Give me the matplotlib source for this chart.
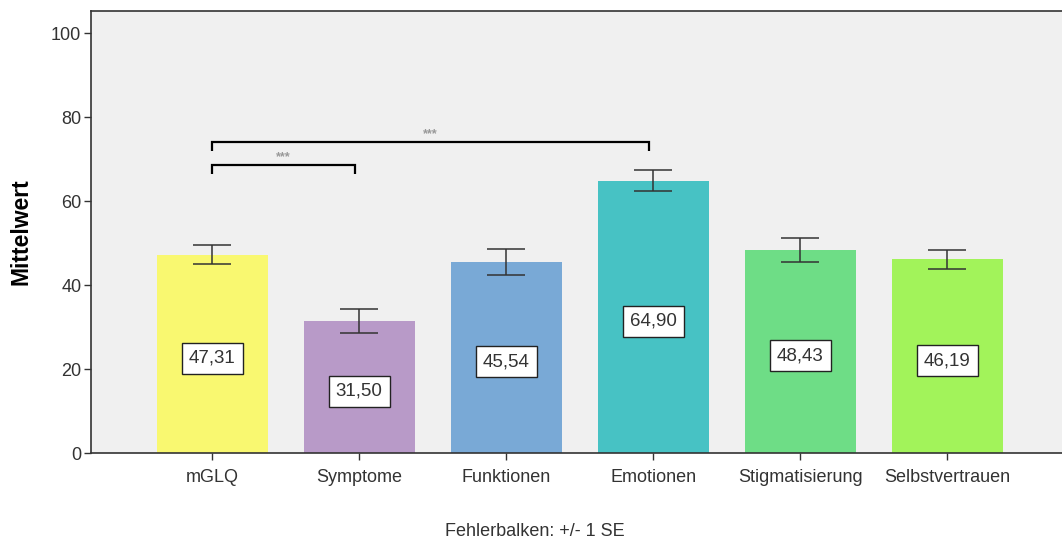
import matplotlib
matplotlib.use("Agg")
import matplotlib.pyplot as plt

plt.rcParams['font.family'] = ['Liberation Sans', 'DejaVu Sans']

categories = ["mGLQ", "Symptome", "Funktionen", "Emotionen", "Stigmatisierung", "Selbstvertrauen"]
means = [47.31, 31.50, 45.54, 64.90, 48.43, 46.19]
se = [2.3, 2.85, 3.2, 2.5, 2.78, 2.3]
colors = ["#F9F870", "#B89AC8", "#79A9D6", "#47C2C4", "#6EDD86", "#A2F35A"]
yticks = [0, 20, 40, 60, 80, 100]

# significance brackets: (left index, right index, bracket height, label)
brackets = [(0, 1, 68.6, "***"), (0, 3, 74.2, "***")]

fig = plt.figure(figsize=(10.62, 5.42), dpi=100)
ax = fig.add_axes([91 / 1062, 0.1636, 1 - 91 / 1062, 0.9806 - 0.1636])
ax.set_facecolor("#F0F0F0")

x = list(range(len(categories)))
ax.bar(x, means, width=0.755, color=colors, zorder=2)
ax.errorbar(x, means, yerr=se, fmt="none", ecolor="#333333", elinewidth=1.1,
            capsize=13.5, capthick=1.1, zorder=3)

for xi, m in zip(x, means):
    ax.text(xi, m / 2 - 1.0, f"{m:.2f}".replace(".", ","), ha="center", va="center",
            fontsize=13.5, color="#333333", zorder=4,
            bbox=dict(boxstyle="square,pad=0.38", fc="white", ec="#222222", lw=1.0))

for i, j, h, lab in brackets:
    xl, xr = x[i], x[j] - 0.03
    ax.plot([xl, xl, xr, xr], [h - 2.2, h, h, h - 2.2], color="black", lw=1.6,
            solid_capstyle="butt", solid_joinstyle="miter", zorder=4)
    ax.text((xl + xr) / 2, h + 0.4, lab, ha="center", va="bottom", fontsize=9,
            fontweight="bold", color="#999999", zorder=4)

ax.set_xlim(-0.823, 5.78)
ax.set_ylim(0, 105.4)
ax.set_yticks(yticks)
ax.set_xticks(x)
ax.set_xticklabels(categories)
ax.tick_params(axis="both", labelsize=13, labelcolor="#333333", color="#333333",
               length=5, width=1.0)
ax.tick_params(axis="x", pad=6)
ax.tick_params(axis="y", pad=2)

ax.spines["right"].set_visible(False)
for side in ["left", "bottom", "top"]:
    ax.spines[side].set_color("#333333")
    ax.spines[side].set_linewidth(1.2)

ax.set_ylabel("Mittelwert", fontsize=16.5, fontweight="bold", color="black", labelpad=13)
fig.text(535 / 1062, 1 - 531 / 542, "Fehlerbalken: +/- 1 SE", ha="center", va="center",
         fontsize=13, color="#333333")

fig.savefig("out.png", dpi=100, facecolor="white")
